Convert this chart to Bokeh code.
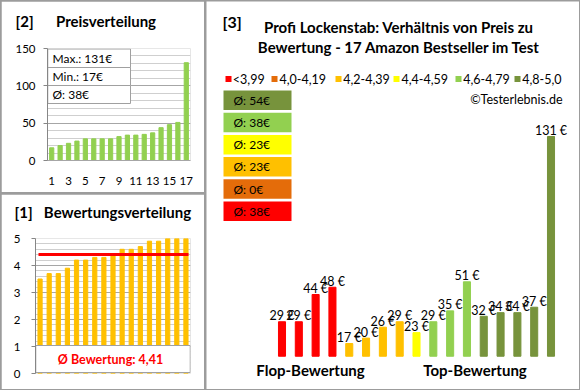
import numpy as np
from bokeh.plotting import figure
from bokeh.layouts import row, column
from bokeh.models import Range1d, FixedTicker, SingleIntervalTicker, Title
from bokeh.core.properties import value
from bokeh.embed import file_html
from bokeh.resources import INLINE

FONT = "Lato"

# ---------------- data ----------------
# ratings of the 17 products, ascending (chart [1])
ratings = [3.5, 3.7, 3.7, 3.9, 4.2, 4.2, 4.3, 4.3, 4.4, 4.6, 4.6, 4.7, 4.9, 4.9, 5.0, 5.0, 5.0]
# prices of the same products in rating order (chart [3])
prices_by_rating = [29, 29, 44, 48, 17, 20, 26, 29, 23, 29, 35, 51, 32, 34, 34, 37, 131]
# price distribution (chart [2]) = prices sorted ascending
prices_sorted = sorted(prices_by_rating)
positions = list(range(1, len(ratings) + 1))

class_labels = ["<3,99", "4,0-4,19", "4,2-4,39", "4,4-4,59", "4,6-4,79", "4,8-5,0"]
class_upper = [3.995, 4.195, 4.395, 4.595, 4.795, 5.01]
class_colors = ["#FF0000", "#E46C0A", "#FFC000", "#FFFF00", "#92D050", "#77933C"]

price_tick_interval = 50
rating_tick_interval = 1
pos_ticks = [1, 3, 5, 7, 9, 11, 13, 15, 17]

BORDER = "#A0A0A0"
GRID_MAJOR = "#A6A6A6"
GRID_MINOR = "#CFCFCF"
TXT = "#000000"

cls = [next(i for i, b in enumerate(class_upper) if r < b) for r in ratings]
bar_colors = [class_colors[c] for c in cls]
class_avg = []
for k in range(len(class_labels)):
    vals = [p for p, c in zip(prices_by_rating, cls) if c == k]
    class_avg.append(int(np.floor(np.mean(vals) + 0.5)) if vals else 0)
pmax, pmin = max(prices_sorted), min(prices_sorted)
pavg = int(np.floor(np.mean(prices_sorted) + 0.5))
ravg = float(np.mean(ratings))


def mapper(left, right, top, bottom, x0, x1, y0, y1):
    """pixel position inside a figure canvas -> data position"""
    fx = lambda cx: x0 + (cx - left) * (x1 - x0) / (right - left)
    fy = lambda cy: y1 - (cy - top) * (y1 - y0) / (bottom - top)
    return fx, fy


def style_axes(p):
    for ax in p.axis:
        ax.major_label_text_font = FONT
        ax.major_label_text_font_size = "11.5px"
        ax.major_label_text_color = TXT
        ax.axis_line_color = "#868686"
        ax.major_tick_line_color = "#868686"
        ax.major_tick_out = 4
        ax.major_tick_in = 0
        ax.minor_tick_line_color = None


def panel_title(p, text, offset, gap_font):
    # spacer nearest to the frame, then the visible title above it
    p.add_layout(Title(text=" ", standoff=0, text_font=FONT, text_font_size=gap_font), "above")
    p.add_layout(Title(text=text, align="left", offset=offset, standoff=0, vertical_align="bottom",
                       text_font=FONT, text_font_size="15px", text_font_style="bold",
                       text_color=TXT), "above")


# ---------------- [2] Preisverteilung ----------------
W2, H2 = 203, 191
L2, R2, T2, B2 = 46, 14, 47, 32
p2 = figure(width=W2, height=H2, x_range=Range1d(0.5, 17.5), y_range=Range1d(0, 150),
            output_backend="svg", toolbar_location=None, title=None, frame_align=False,
            min_border_left=L2, min_border_right=R2, min_border_top=T2, min_border_bottom=B2,
            outline_line_color=None, border_fill_color="white", background_fill_color="white")
p2.yaxis.ticker = SingleIntervalTicker(interval=price_tick_interval, num_minor_ticks=5)
p2.xaxis.ticker = FixedTicker(ticks=pos_ticks)
style_axes(p2)
p2.xaxis.major_tick_line_color = None
p2.xaxis.major_tick_out = 0
p2.xaxis.axis_line_color = GRID_MAJOR
p2.xaxis.major_label_standoff = 16
p2.yaxis.major_label_standoff = 8
p2.xgrid.visible = False
p2.ygrid.grid_line_color = GRID_MAJOR
p2.ygrid.minor_grid_line_color = GRID_MINOR
p2.vbar(x=positions, top=prices_sorted, bottom=0, width=0.5, color="#92D050")

fx2, fy2 = mapper(L2, W2 - R2, T2, H2 - B2, 0.5, 17.5, 0, 150)
box_rows = ["Max.: %d€" % pmax, "Min.: %d€" % pmin, "Ø: %d€" % pavg]
row_edges = [fy2(47.5), fy2(66), fy2(84), fy2(102)]
p2.quad(left=[0.53] * 3, right=[fx2(129)] * 3, top=row_edges[:3], bottom=row_edges[1:],
        fill_color="white", line_color=BORDER, line_width=1)
p2.text(x=[fx2(51)] * 3, y=[(row_edges[i] + row_edges[i + 1]) / 2 for i in range(3)],
        text=box_rows, text_font=value(FONT), text_font_size="12px", text_color=TXT,
        text_baseline="middle", text_align="left")
panel_title(p2, "[2]\u2003\u2002 Preisverteilung", 14 - L2, "14px")

# ---------------- [1] Bewertungsverteilung ----------------
W1, H1 = 203, 195
L1, R1, T1, B1 = 34, 14, 44, 16
p1 = figure(width=W1, height=H1, x_range=Range1d(0.5, 17.5), y_range=Range1d(0, 5),
            output_backend="svg", toolbar_location=None, title=None, x_axis_location=None,
            frame_align=False,
            min_border_left=L1, min_border_right=R1, min_border_top=T1, min_border_bottom=B1,
            outline_line_color=None, border_fill_color="white", background_fill_color="white")
p1.yaxis.ticker = SingleIntervalTicker(interval=rating_tick_interval, num_minor_ticks=5)
style_axes(p1)
p1.yaxis.major_label_standoff = 11
p1.xgrid.visible = False
p1.ygrid.grid_line_color = GRID_MAJOR
p1.ygrid.minor_grid_line_color = GRID_MINOR
p1.vbar(x=positions, top=ratings, bottom=0, width=0.46, color="#FFC000")
fx1, fy1 = mapper(L1, W1 - R1, T1, H1 - B1, 0.5, 17.5, 0, 5)
p1.line(x=[fx1(37), fx1(187)], y=[ravg, ravg], line_color="#FF0000", line_width=3)
p1.quad(left=[0.53], right=[17.47], bottom=[fy1(178)], top=[fy1(151)],
        fill_color="white", line_color=BORDER, line_width=1)
p1.text(x=[fx1(109)], y=[fy1(164.5)], text=["Ø Bewertung: " + f"{ravg:.2f}".replace(".", ",")],
        text_font=value(FONT), text_font_size="12.5px", text_font_style="bold", text_color="#FF0000",
        text_align="center", text_baseline="middle")
panel_title(p1, "[1]\u2003Bewertungsverteilung", 13 - L1, "13px")

# ---------------- [3] Preis / Bewertung ----------------
W3, H3 = 373, 388
X0, X1, Y0, Y1 = -3.4907, 18.695, -8.31, 205.34
p3 = figure(width=W3, height=H3, x_range=Range1d(X0, X1), y_range=Range1d(Y0, Y1),
            output_backend="svg", toolbar_location=None, title=None, frame_align=False,
            x_axis_location=None, y_axis_location=None, min_border=0,
            outline_line_color=None, border_fill_color="white", background_fill_color="white")
p3.grid.visible = False
fx3, fy3 = mapper(0, W3, 0, H3, X0, X1, Y0, Y1)

p3.vbar(x=positions, top=prices_by_rating, bottom=10, width=0.42, color=bar_colors)
p3.text(x=positions, y=prices_by_rating, text=[f"{v} €" for v in prices_by_rating],
        text_font=value(FONT), text_font_size="12.5px", text_color=TXT,
        text_align="center", text_baseline="alphabetic", y_offset=-6)

# header
p3.text(x=[fx3(16)], y=[fy3(19.5)], text=["[3]"], text_font=value(FONT), text_font_size="16px",
        text_font_style="bold", text_color=TXT, text_baseline="middle")
p3.text(x=[fx3(192.5)] * 2, y=[fy3(25), fy3(45)],
        text=["Profi Lockenstab: Verhältnis von Preis zu", "Bewertung - 17 Amazon Bestseller im Test"],
        text_font=value(FONT), text_font_size="15px", text_font_style="bold", text_color=TXT,
        text_align="center", text_baseline="middle")

# legend
sq_px = [22, 68, 132, 190, 252, 311]
tx_px = [26.3, 73, 136.7, 195, 256.7, 315.7]
p3.scatter(x=[fx3(v) for v in sq_px], y=[fy3(77.5)] * 6, marker="square", size=6,
           fill_color=class_colors, line_color=None)
p3.text(x=[fx3(v) for v in tx_px], y=[fy3(77.5)] * 6, text=class_labels, text_font=value(FONT),
        text_font_size="12.5px", text_color=TXT, text_baseline="middle", text_align="left")
p3.text(x=[fx3(356)], y=[fy3(97.5)], text=["©Testerlebnis.de"], text_font=value(FONT),
        text_font_size="12.5px", text_color=TXT, text_baseline="middle", text_align="right")

# class average boxes (top: best class)
order = list(range(len(class_labels)))[::-1]
tops = [89 + 22.2 * i for i in range(len(order))]
p3.quad(left=[fx3(17)] * 6, right=[fx3(85)] * 6, top=[fy3(t) for t in tops],
        bottom=[fy3(t + 19.5) for t in tops], fill_color=[class_colors[k] for k in order], line_color=None)
p3.text(x=[fx3(27)] * 6, y=[fy3(t + 9.75) for t in tops],
        text=["Ø: %d€" % class_avg[k] for k in order], text_font=value(FONT), text_font_size="12px",
        text_color=TXT, text_baseline="middle", text_align="left")

p3.text(x=[fx3(104), fx3(268.5)], y=[fy3(368)] * 2, text=["Flop-Bewertung", "Top-Bewertung"],
        text_font=value(FONT), text_font_size="15px", text_font_style="bold", text_color=TXT,
        text_align="center", text_baseline="middle")

left = column(p2, p1, spacing=2)
lay = row(left, p3, spacing=2, styles={"background-color": "#9C9C9C", "padding": "1px"})

open("out.html", "w").write(file_html(lay, INLINE))
